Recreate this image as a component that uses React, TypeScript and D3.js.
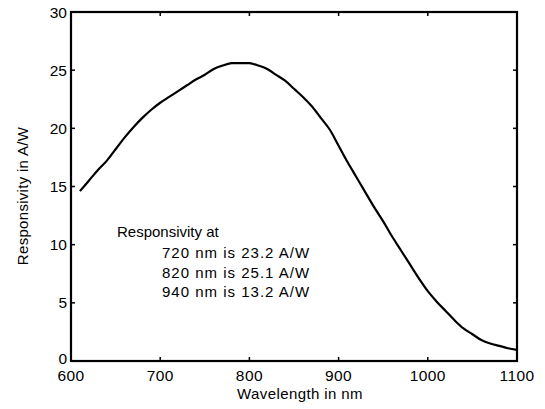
import * as d3 from 'd3'

const wavelengths = [
  610, 620, 630, 640, 650, 660, 670, 680, 690, 700,
  710, 720, 730, 740, 750, 760, 770, 780, 790, 800,
  810, 820, 830, 840, 850, 860, 870, 880, 890, 900,
  910, 920, 930, 940, 950, 960, 970, 980, 990, 1000,
  1010, 1020, 1030, 1040, 1050, 1060, 1070, 1080, 1090, 1100,
]
const responsivity = [
  14.6, 15.5, 16.4, 17.2, 18.2, 19.2, 20.1, 20.9, 21.6, 22.2,
  22.7, 23.2, 23.7, 24.2, 24.6, 25.1, 25.4, 25.6, 25.6, 25.6,
  25.4, 25.1, 24.6, 24.1, 23.4, 22.7, 21.9, 20.9, 19.9, 18.5,
  17.1, 15.8, 14.5, 13.2, 12.0, 10.7, 9.5, 8.3, 7.1, 6.0,
  5.1, 4.3, 3.5, 2.8, 2.3, 1.8, 1.5, 1.3, 1.1, 0.95,
]
const xTicks = [600, 700, 800, 900, 1000, 1100]
const yTicks = [0, 5, 10, 15, 20, 25, 30]
const noteTitle = 'Responsivity at'
const noteLines = ['720 nm is 23.2 A/W', '820 nm is 25.1 A/W', '940 nm is 13.2 A/W']

const W = 545
const H = 409
const left = 71
const right = 517
const top = 12
const bottom = 361
const font = 'Arial, "Liberation Sans", Helvetica, sans-serif'

export default function App() {
  const x = d3.scaleLinear().domain([600, 1100]).range([left, right])
  const y = d3.scaleLinear().domain([0, 30]).range([bottom, top])

  const pts: [number, number][] = wavelengths.map((w, i) => [w, responsivity[i]])
  const line = d3.line<[number, number]>()
    .x(d => x(d[0]))
    .y(d => y(d[1]))
    .curve(d3.curveCatmullRom)

  const tk = 4

  return (
    <svg width={W} height={H} style={{ position: 'absolute', left: 0, top: 0, background: '#fff' }}
      fontFamily={font}>
      {/* frame */}
      <rect x={left} y={top} width={right - left} height={bottom - top}
        fill="none" stroke="#000" strokeWidth={2.2} />

      {/* x ticks, bottom and top, pointing in */}
      {xTicks.map(t => (
        <g key={'x' + t}>
          <line x1={x(t)} x2={x(t)} y1={bottom} y2={bottom - tk} stroke="#000" strokeWidth={1.5} />
          <line x1={x(t)} x2={x(t)} y1={top} y2={top + tk} stroke="#000" strokeWidth={1.5} />
          <text x={x(t)} y={381} textAnchor="middle" fontSize={15.5} letterSpacing={0.4}>{t}</text>
        </g>
      ))}

      {/* y ticks, left and right */}
      {yTicks.map(t => (
        <g key={'y' + t}>
          <line x1={left} x2={left + tk} y1={y(t)} y2={y(t)} stroke="#000" strokeWidth={1.5} />
          <line x1={right} x2={right - tk} y1={y(t)} y2={y(t)} stroke="#000" strokeWidth={1.5} />
          {/* the 0 sits just above the 600, nudge it up a little */}
          <text x={left - 4} y={y(t) + (t === 0 ? 2.5 : 5.5)} textAnchor="end" fontSize={15.5}>{t}</text>
        </g>
      ))}

      {/* axis titles */}
      <text x={300} y={399} textAnchor="middle" fontSize={15} letterSpacing={0.4}>Wavelength in nm</text>
      <text transform={`translate(28,196) rotate(-90)`} textAnchor="middle" fontSize={15} letterSpacing={0.3}>
        Responsivity in A/W
      </text>

      {/* curve */}
      <path d={line(pts) ?? ''} fill="none" stroke="#000" strokeWidth={2.2} strokeLinejoin="round" />

      {/* note */}
      <text x={117} y={237} fontSize={15}>{noteTitle}</text>
      {noteLines.map((s, i) => (
        <text key={s} x={162} y={258 + i * 19.5} fontSize={15} letterSpacing={1}>{s}</text>
      ))}
    </svg>
  )
}
